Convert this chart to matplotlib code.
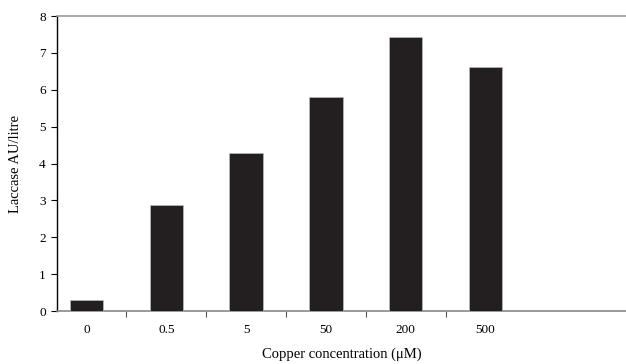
import numpy as np
import matplotlib.pyplot as plt

plt.rcParams['font.family'] = 'Liberation Serif'

# copper concentration categories and laccase activity
conc = ["0", "0.5", "5", "50", "200", "500"]
laccase = [0.29, 2.87, 4.28, 5.81, 7.43, 6.62]

fig = plt.figure(figsize=(6.26, 3.64), dpi=100)
ax = fig.add_axes([0.091, 0.1456, 0.909, 0.8104])

x = np.arange(len(conc))
ax.bar(x, laccase, width=0.42, color="#231f20", edgecolor="#bbbbbb", linewidth=0.5, zorder=3)

ax.set_ylim(0, 8)
ax.set_yticks(range(0, 9))
ax.set_xlim(-0.37, 6.76)

# ticks between categories, labels centred on bars
ax.set_xticks(x)
ax.set_xticklabels(conc)
ax.set_xticks(np.arange(0.5, len(conc) - 0.5, 1), minor=True)
ax.tick_params(axis="x", which="major", length=0, pad=9, labelsize=9.5)
ax.tick_params(axis="x", which="minor", length=4, width=0.8, color="#555555", direction="out")
ax.tick_params(axis="y", length=4, width=0.8, labelsize=9.5, pad=4)

ax.spines["right"].set_visible(False)
ax.spines["top"].set_color("#999999")
ax.spines["top"].set_linewidth(1.2)
ax.spines["bottom"].set_color("#888888")
ax.spines["bottom"].set_linewidth(1.2)
ax.spines["left"].set_color("black")
ax.spines["left"].set_linewidth(1.0)

ax.set_xlabel("Copper concentration (μM)", fontsize=10.5, labelpad=9)
ax.set_ylabel("Laccase AU/litre", fontsize=10.5, labelpad=12)

fig.savefig("out.png", dpi=100)
